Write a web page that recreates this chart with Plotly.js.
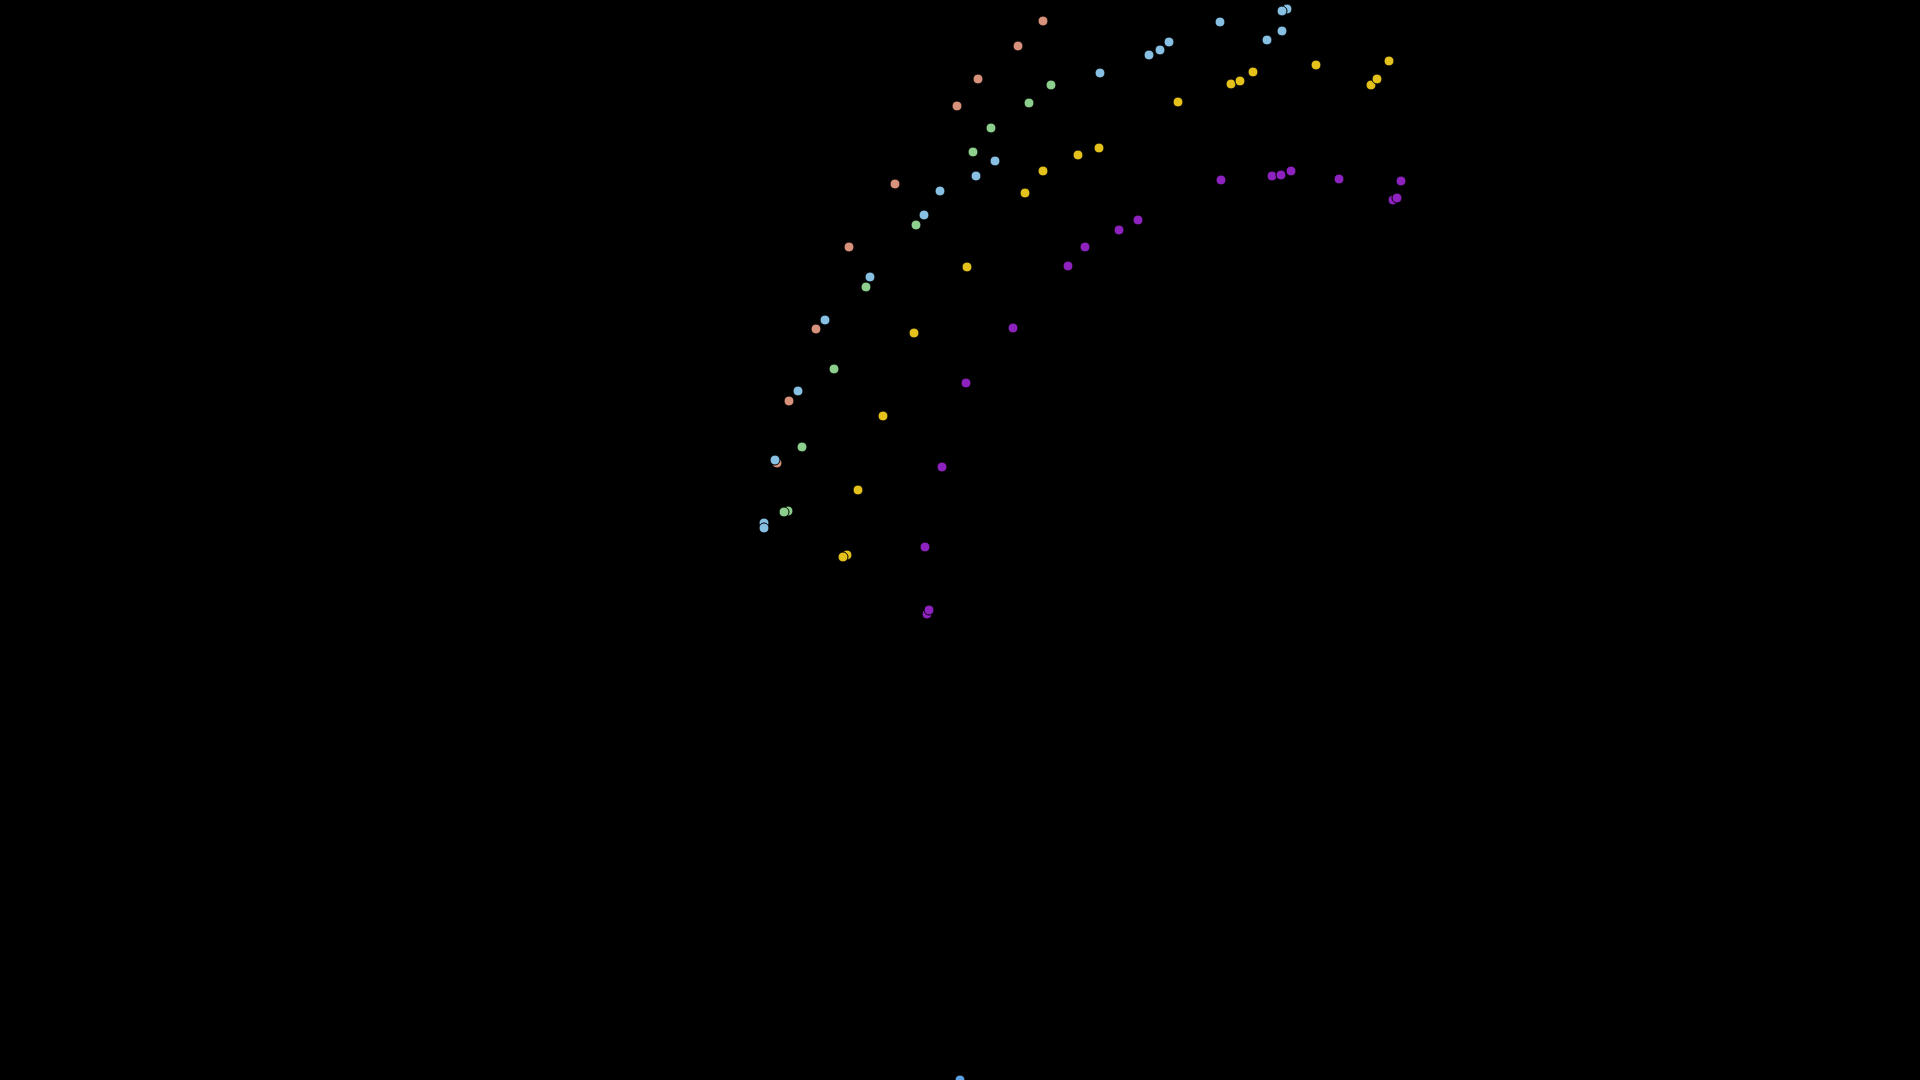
<!DOCTYPE html>
<html>
<head>
<meta charset="utf-8">
<script src="https://cdn.plot.ly/plotly-3.0.1.min.js"></script>
<style>
  html, body { margin: 0; padding: 0; background: #000; }
  #chart { width: 1920px; height: 1080px; }
</style>
</head>
<body>
<div id="chart"></div>
<script>
// Series values (x, y)
const salmonX = [-18.3, -17.1, -14.4, -11.1, -6.5, -0.3, 1.8, 5.8, 8.3];
const salmonY = [61.7, 67.9, 75.1, 83.3, 89.6, 97.4, 100.1, 103.4, 105.9];

const greenX = [-17.2, -17.6, -15.8, -12.6, -9.4, -4.4, 1.3, 3.1, 6.9, 9.1];
const greenY = [56.9, 56.8, 63.3, 71.1, 79.3, 85.5, 92.8, 95.2, 97.7, 99.5];

const blueX = [-19.6, -19.6, -18.5, -16.2, -13.5, -9.0, -3.6, -2.0, 1.6, 3.5, 14.0, 18.9, 20.0, 20.9, 26.0, 30.7, 32.2, 32.7, 32.2];
const blueY = [55.7, 55.2, 62.0, 68.9, 76.0, 80.3, 86.5, 88.9, 90.4, 91.9, 100.7, 102.5, 103.0, 103.8, 105.8, 104.0, 104.9, 107.1, 106.9];

const yellowX = [-11.3, -11.7, -10.2, -7.7, -4.6, 0.7, 6.5, 8.3, 11.8, 13.9, 21.8, 27.1, 28.0, 29.3, 35.6, 42.9, 41.1, 41.7];
const yellowY = [52.5, 52.3, 59.0, 66.4, 74.7, 81.3, 88.7, 90.9, 92.5, 93.2, 97.8, 99.6, 99.9, 100.8, 101.5, 101.9, 99.5, 100.1];

const purpleX = [-3.3, -3.1, -3.5, -1.8, 0.6, 5.3, 10.8, 12.5, 15.9, 17.8, 26.1, 31.2, 32.1, 33.1, 37.9, 44.1, 43.3, 43.7];
const purpleY = [46.6, 47.0, 53.3, 61.3, 69.7, 75.2, 81.4, 83.3, 85.0, 86.0, 90.0, 90.4, 90.5, 90.9, 90.1, 89.9, 88.0, 88.2];

const originX = [0];
const originY = [0];

const series = [
  { x: salmonX, y: salmonY, color: '#D8917A' },
  { x: greenX,  y: greenY,  color: '#8DD08D' },
  { x: blueX,   y: blueY,   color: '#88C0E4' },
  { x: yellowX, y: yellowY, color: '#E4C21B' },
  { x: purpleX, y: purpleY, color: '#8E22BF' },
  { x: originX, y: originY, color: '#5CA2E6' }
];

const traces = series.map(s => ({
  type: 'scatter',
  mode: 'markers',
  x: s.x,
  y: s.y,
  marker: { size: 10, color: s.color, line: { width: 1, color: '#000' } },
  hoverinfo: 'skip'
}));

const layout = {
  width: 1920,
  height: 1080,
  paper_bgcolor: '#000',
  plot_bgcolor: '#000',
  margin: { l: 0, r: 0, t: 0, b: 0, pad: 0 },
  showlegend: false,
  xaxis: { range: [-96, 96], visible: false, fixedrange: true },
  yaxis: { range: [0, 108], visible: false, fixedrange: true }
};

Plotly.newPlot('chart', traces, layout, { displayModeBar: false, staticPlot: true });
</script>
</body>
</html>
